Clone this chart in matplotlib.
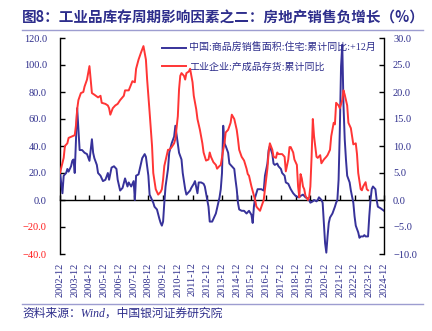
import matplotlib
matplotlib.use("Agg")
import matplotlib.pyplot as plt
from matplotlib.lines import Line2D

# months after 2002-12 and values
sales_months = [
    0, 2, 3, 5, 6, 7, 9, 10, 11, 12, 13, 14, 15, 16, 18, 20, 22, 24, 26, 27, 28, 30,
    31, 33, 35, 37, 39, 40, 42, 44, 46, 47, 49, 51, 53, 55, 56, 58, 60, 61, 62, 64,
    65, 67, 69, 70, 72, 73, 74, 76, 77, 79, 81, 82, 83, 84, 85, 86, 88, 89, 91, 93,
    94, 96, 97, 99, 100, 102, 103, 104, 106, 107, 109, 110, 112, 113, 115, 117, 118,
    119, 121, 122, 124, 125, 127, 129, 130, 131, 132, 133, 134, 135, 137, 138, 140,
    142, 143, 144, 145, 146, 148, 150, 152, 154, 156, 157, 158, 159, 160, 161, 162,
    164, 166, 167, 169, 170, 171, 173, 174, 175, 177, 178, 180, 181, 183, 184, 186,
    187, 188, 190, 191, 192, 194, 195, 196, 198, 199, 200, 202, 203, 204, 206, 207,
    209, 210, 211, 213, 214, 215, 216, 217, 218, 219, 220, 222, 224, 225, 226, 227,
    228, 229, 230, 231, 232, 233, 234, 236, 237, 239, 240, 241, 243, 244, 245, 247,
    248, 249, 251, 252, 253, 254, 255, 257, 258, 259, 261, 264,
]
sales_yoy = [
    20, 5, 18, 20, 23, 21, 25, 29, 30, 20, 45, 68, 52, 37, 37, 35, 34, 29, 45, 35, 31, 26,
    20, 18, 14, 15, 20, 15, 24, 25, 23, 15, 7, 9, 16, 10, 13, 10, 14, 0, 18, 19,
    23, 31, 34, 32, 18, 4, 2, -2, -5, -7, -14, -17, -19, -16, -2, 10, 23, 35, 42, 47,
    55, 42, 35, 30, 20, 8, 4, 5, 7, 9, 12, 14, 5, 13, 13, 12, 10,
    5, -5, -16, -16, -14, -10, -2, 2, 8, 20, 55, 42, 40, 35, 27, 25,
    23, 15, 8, -2, -7, -8, -8, -10, -8, -11, -17, -5, 2, 5, 8, 8,
    8, 7, 18, 27, 37, 40, 34, 27, 26, 27, 25, 23, 20, 18, 13, 12,
    10, 8, 5, 4, 3, 2, 2, 3, 4, 3, 2, 1, 0, -2, -1, 0,
    -1, 0, 2, 0, -2, -17, -32, -39, -27, -17, -13, -10, -5, -2, 0, 15,
    52, 99, 115, 70, 45, 30, 18, 13, 7, -2, -12, -19, -24, -28, -27, -27,
    -26, -27, -27, -12, 0, 8, 10, 8, 0, -5, -6, -8,
]

stock_months = [
    0, 3, 4, 6, 7, 10, 12, 13, 14, 15, 17, 19, 20, 22, 24, 25, 26, 28, 31, 33, 34, 37,
    39, 40, 41, 43, 45, 47, 49, 52, 53, 56, 59, 61, 62, 64, 66, 68, 70, 71, 73, 75,
    76, 78, 80, 82, 83, 84, 85, 88, 89, 91, 93, 94, 96, 97, 98, 99, 101, 102, 103,
    105, 106, 108, 109, 111, 112, 114, 116, 117, 119, 121, 122, 123, 125, 127, 128,
    130, 131, 133, 134, 135, 137, 139, 140, 142, 144, 145, 146, 148, 150, 152, 153,
    154, 156, 158, 159, 160, 161, 163, 164, 166, 167, 169, 170, 171, 173, 174, 176,
    177, 178, 180, 181, 183, 184, 186, 187, 188, 190, 191, 193, 194, 195, 196, 197,
    198, 199, 200, 202, 203, 204, 205, 206, 207, 209, 210, 212, 213, 215, 217, 218,
    220, 221, 223, 224, 225, 227, 228, 230, 231, 232, 234, 235, 237, 238, 239, 241,
    242, 243, 245, 246, 247, 249, 250, 251,
]
stock_yoy = [
    5.0, 7.8, 10.0, 10.5, 11.5, 11.8, 12.0, 13.8, 16.8, 18.5, 19.8, 20.0, 21.0, 22.3, 24.8, 22.3, 19.8, 19.5, 19.0, 19.3, 18.0, 17.8,
    17.5, 17.0, 15.8, 17.0, 17.5, 17.8, 18.5, 19.3, 20.3, 20.3, 22.0, 21.8, 24.3, 26.0, 27.3, 28.5, 26.0, 22.3, 16.3, 10.0,
    5.0, 2.0, 1.0, 1.5, 2.0, 3.8, 6.3, 9.3, 9.3, 9.8, 10.5, 11.3, 15.5, 20.5, 23.0, 23.5, 23.0, 22.3, 23.5,
    23.8, 24.3, 21.8, 19.3, 16.8, 15.0, 13.0, 10.5, 8.8, 7.3, 7.5, 8.8, 8.0, 7.0, 6.5, 5.8,
    6.3, 6.5, 9.3, 10.5, 12.5, 13.0, 14.3, 15.8, 15.0, 13.0, 11.3, 9.3, 8.0, 7.3, 5.8, 4.8,
    4.5, 2.5, 0.8, 0.0, -1.2, -1.5, -2.0, -1.3, 0.0, 2.0, 5.8, 8.8, 10.5, 9.3, 8.0, 7.8,
    8.8, 8.5, 8.5, 8.5, 8.0, 5.3, 7.5, 9.8, 9.8, 8.8, 7.5, 6.5, 2.5, 0.5, 4.8, 4.0,
    2.5, 2.0, 0.8, 0.0, 0.5, 2.5, 8.0, 15.0, 11.8, 8.0, 7.8, 8.3, 6.8, 7.5, 8.0, 8.3,
    9.3, 11.8, 14.3, 14.0, 18.0, 17.5, 17.0, 18.5, 20.3, 19.5, 17.5, 14.3, 13.3, 11.8, 10.3, 10.5,
    8.5, 5.0, 2.0, 1.8, 2.5, 3.3, 2.0, 1.8,
]

sales_label = "中国:商品房销售面积:住宅:累计同比:+12月"
stock_label = "工业企业:产成品存货:累计同比"
year_ticks = [f"{y}-12" for y in range(2002, 2025)]
left_ticks = [120, 100, 80, 60, 40, 20, 0, -20, -40]
right_ticks = [30, 25, 20, 15, 10, 5, 0, -5, -10]
title = "图8：工业品库存周期影响因素之二：房地产销售负增长（%）"
source = "资料来源：Wind，中国银河证券研究院"

BLUE = "#37329a"
RED = "#ff3535"
TXT = "#2e2e8c"
NUM_FONT = ["Liberation Serif", "Noto Sans CJK SC"]
CJK_FONT = ["Noto Sans CJK SC", "DejaVu Sans"]

plt.rcParams["font.family"] = NUM_FONT


def fmt(v):
    s = f"{abs(v):.1f}"
    return ("\u2212" + s) if v < 0 else s


fig = plt.figure(figsize=(4.32, 3.31), dpi=100)
ax = fig.add_axes([60 / 432, 77 / 331, 324 / 432, 216 / 331])
ax2 = ax.twinx()

ax.plot(sales_months, sales_yoy, color=BLUE, lw=1.4, zorder=3)
ax2.plot(stock_months, stock_yoy, color=RED, lw=1.4, zorder=3)

ax.set_xlim(0, 264)
ax.set_ylim(-40, 120)
ax2.set_ylim(-10, 30)

# zero line carries the year ticks, labels sit under the plot
ax.spines["bottom"].set_position(("data", 0))
ax.spines["top"].set_visible(False)
ax.spines["right"].set_visible(False)
ax2.spines["top"].set_visible(False)
ax2.spines["bottom"].set_visible(False)
ax2.spines["left"].set_visible(False)
for sp in ("bottom", "left"):
    ax.spines[sp].set_linewidth(1.0)
ax2.spines["right"].set_linewidth(1.0)

month_ticks = list(range(0, 265, 12))
ax.set_xticks(month_ticks)
ax.tick_params(axis="x", direction="in", length=3.5, width=1.0, labelbottom=False)

sec = ax.secondary_xaxis("bottom")
sec.set_xticks(month_ticks, year_ticks)
sec.spines["bottom"].set_visible(False)
sec.tick_params(axis="x", length=0, pad=6, labelsize=7.5, labelrotation=90,
                labelcolor=TXT)

ax.set_yticks(left_ticks, [fmt(v) for v in left_ticks])
ax.tick_params(axis="y", direction="in", length=3.5, width=1.0, pad=9.5,
               labelsize=7.5)
for lab, v in zip(ax.get_yticklabels(), left_ticks):
    lab.set_color("#ff1a1a" if v < 0 else TXT)

ax2.set_yticks(right_ticks, [fmt(v) for v in right_ticks])
ax2.tick_params(axis="y", direction="in", length=3.5, width=1.0, pad=6.5,
                labelsize=7.5, labelcolor=TXT)

handles = [Line2D([], [], color=BLUE, lw=1.4), Line2D([], [], color=RED, lw=1.4)]
leg = ax.legend(handles, [sales_label, stock_label], loc="upper left",
                bbox_to_anchor=(0.30, 1.0), frameon=False,
                borderpad=0, handlelength=2.4, handletextpad=0.3,
                labelspacing=0.95, prop={"family": NUM_FONT, "size": 7.2})
for t in leg.get_texts():
    t.set_color(TXT)

fig.text(22 / 432, 1 - 18 / 331, title, fontsize=10.5, fontweight="bold",
         color=TXT, family=CJK_FONT, va="center", ha="left")
fig.add_artist(Line2D([22 / 432, 423 / 432], [1 - 30 / 331, 1 - 30 / 331],
                      color="#9d9dd0", lw=1.0))
fig.add_artist(Line2D([22 / 432, 423 / 432], [1 - 304 / 331, 1 - 304 / 331],
                      color="#9d9dd0", lw=1.0))
fig.text(22 / 432, 1 - 314 / 331, source, fontsize=8.5, color=TXT,
         family=["Liberation Serif", "Noto Sans CJK SC"], va="center", ha="left",
         style="italic")

fig.savefig("out.png", dpi=100)
